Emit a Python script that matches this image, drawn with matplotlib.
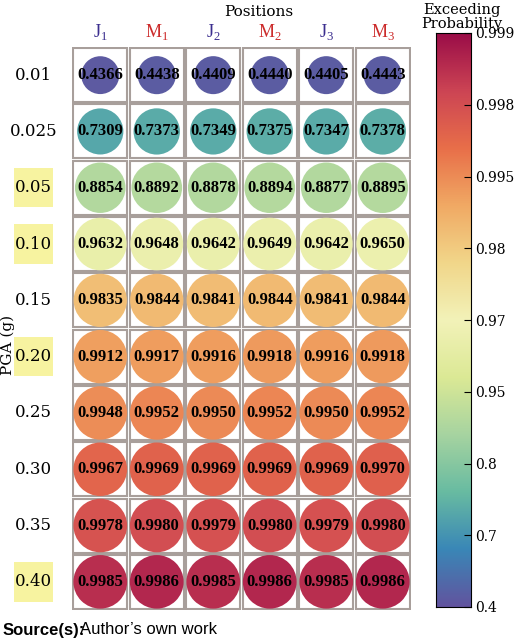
import numpy as np
import matplotlib.pyplot as plt
from matplotlib.patches import Circle, Rectangle

plt.rcParams['font.family'] = ['Liberation Serif', 'DejaVu Serif']
plt.rcParams['mathtext.fontset'] = 'custom'
plt.rcParams['mathtext.rm'] = 'Liberation Serif'

positions = ["J$_{1}$", "M$_{1}$", "J$_{2}$", "M$_{2}$", "J$_{3}$", "M$_{3}$"]
pos_colors = ["#3b2e8f", "#cc2b2b"] * 3
pga = ["0.01", "0.025", "0.05", "0.10", "0.15", "0.20", "0.25", "0.30", "0.35", "0.40"]
highlighted = ["0.05", "0.10", "0.20", "0.40"]
values = np.array([
    [0.4366, 0.4438, 0.4409, 0.4440, 0.4405, 0.4443],
    [0.7309, 0.7373, 0.7349, 0.7375, 0.7347, 0.7378],
    [0.8854, 0.8892, 0.8878, 0.8894, 0.8877, 0.8895],
    [0.9632, 0.9648, 0.9642, 0.9649, 0.9642, 0.9650],
    [0.9835, 0.9844, 0.9841, 0.9844, 0.9841, 0.9844],
    [0.9912, 0.9917, 0.9916, 0.9918, 0.9916, 0.9918],
    [0.9948, 0.9952, 0.9950, 0.9952, 0.9950, 0.9952],
    [0.9967, 0.9969, 0.9969, 0.9969, 0.9969, 0.9970],
    [0.9978, 0.9980, 0.9979, 0.9980, 0.9979, 0.9980],
    [0.9985, 0.9986, 0.9985, 0.9986, 0.9985, 0.9986],
])
cbar_ticks = [0.4, 0.7, 0.8, 0.95, 0.97, 0.98, 0.995, 0.998, 0.999]

cmap = plt.get_cmap("Spectral_r")
tick_pos = np.linspace(0, 1, len(cbar_ticks))


def to_unit(v):
    return np.interp(v, cbar_ticks, tick_pos)


def colour(v):
    # slightly muted version of Spectral_r
    c = np.array(cmap(to_unit(v))[:3])
    return tuple(c * 0.9 + 0.05)


W, H = 520, 641
fig = plt.figure(figsize=(W / 100, H / 100), dpi=100)
gx0, gx1, gy0, gy1 = 72, 411, 47, 610
ax = fig.add_axes([gx0 / W, 1 - gy1 / H, (gx1 - gx0) / W, (gy1 - gy0) / H])
nrow, ncol = values.shape
ax.set_xlim(0, ncol)
ax.set_ylim(nrow, 0)
ax.axis("off")

for i in range(nrow):
    for j in range(ncol):
        v = values[i, j]
        ax.add_patch(Rectangle((j + 0.02, i + 0.02), 0.96, 0.96, fc="white",
                               ec="#a89f9b", lw=1.5))
        r = (19 + 14 * (v - 0.4366)) / 56.5
        ax.add_patch(Circle((j + 0.5, i + 0.5), r, fc=colour(v), ec="none"))
        ax.text(j + 0.5, i + 0.5, f"{v:.4f}", ha="center", va="center",
                fontsize=12, fontweight="bold", color="black")

for j, (lab, c) in enumerate(zip(positions, pos_colors)):
    ax.text(j + 0.5, -0.08, lab, ha="center", va="bottom", fontsize=13, color=c)
ax.text(ncol / 2 + 0.3, -0.5, "Positions", ha="center", va="bottom", fontsize=11,
        family=['DejaVu Serif'])

for i, lab in enumerate(pga):
    if lab in highlighted:
        ax.add_patch(Rectangle((-1.03, i + 0.15), 0.7, 0.7, fc="#f7f3a0", ec="none",
                               clip_on=False))
    ax.text(-0.68, i + 0.5, lab, ha="center", va="center", fontsize=12,
            family=['DejaVu Serif'])

fig.text(8 / W, 1 - 345 / H, "PGA (g)", rotation=90, ha="center", va="center",
         fontsize=11, family=['DejaVu Serif'])

cx0, cx1, cy0, cy1 = 436, 471, 33, 607
cax = fig.add_axes([cx0 / W, 1 - cy1 / H, (cx1 - cx0) / W, (cy1 - cy0) / H])
grad = np.linspace(0, 1, 256).reshape(-1, 1)
cax.imshow(np.array([colour(np.interp(g, tick_pos, cbar_ticks)) for g in grad[:, 0]])
           .reshape(-1, 1, 3), aspect="auto", origin="lower", extent=(0, 1, 0, 1))
cax.set_xticks([])
cax.yaxis.tick_right()
cax.set_yticks(tick_pos)
cax.set_yticklabels([str(t) for t in cbar_ticks], family=['DejaVu Serif'], fontsize=10)
cax.tick_params(axis="y", direction="in", length=5, pad=3)
fig.text(462 / W, 1 - 17 / H, "Exceeding\nProbability", ha="center", va="center",
         fontsize=10.5, family=['DejaVu Serif'], linespacing=0.95)

fig.text(3 / W, 1 - 630 / H, "Source(s):", fontsize=12, fontweight="bold",
         family=['Liberation Sans'], ha="left", va="center")
fig.text(80 / W, 1 - 630 / H, "Author\u2019s own work", fontsize=12,
         family=['Liberation Sans'], ha="left", va="center")

fig.savefig("out.png", dpi=100)
